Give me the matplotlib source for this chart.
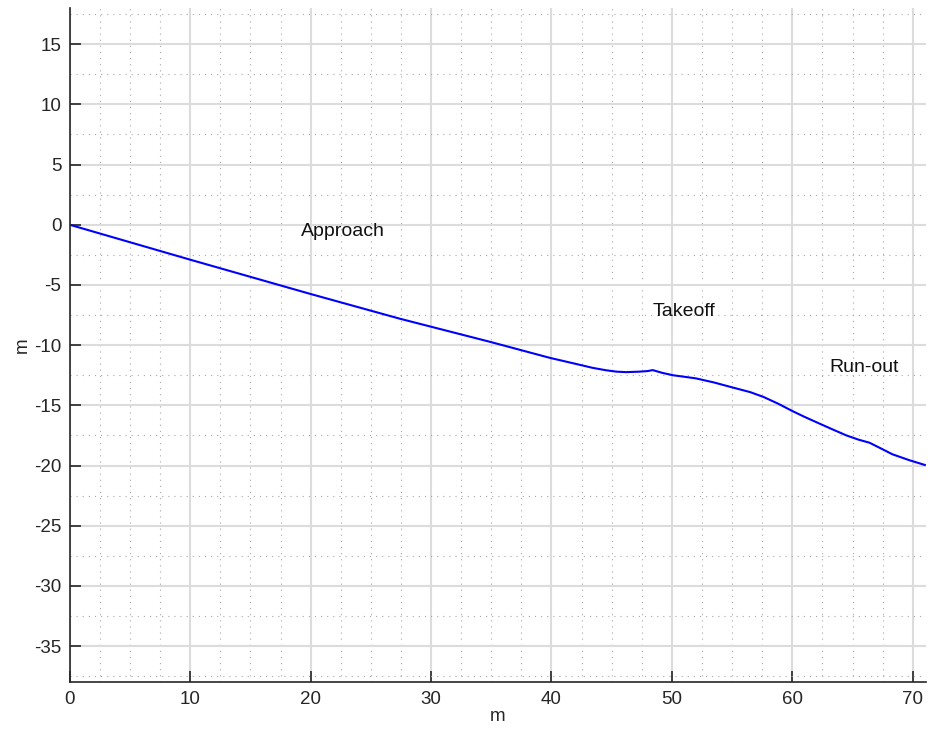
import matplotlib
matplotlib.use("Agg")
import matplotlib.pyplot as plt
from matplotlib.ticker import MultipleLocator

plt.rcParams['font.family'] = ['Liberation Sans', 'DejaVu Sans']
plt.rcParams['axes.unicode_minus'] = False

# profile of the slope (m)
dist = [0, 10, 20, 27.4, 35, 39.85, 42.0, 43.4, 44.5, 45.4, 46.2, 47.3, 48.0, 48.4,
        49.2, 50.1, 51.0, 52.0, 53.5, 55.1, 56.5, 57.6, 58.8, 60.0, 61.0, 62.0,
        63.3, 64.5, 65.5, 66.4, 67.3, 68.3, 69.7, 71.0]
height = [0, -2.9, -5.75, -7.8, -9.75, -11.05, -11.55, -11.88, -12.08, -12.2, -12.24,
          -12.2, -12.15, -12.07, -12.3, -12.5, -12.62, -12.76, -13.1, -13.53, -13.9,
          -14.3, -14.85, -15.47, -15.95, -16.4, -16.98, -17.5, -17.85, -18.1, -18.55,
          -19.06, -19.55, -19.95]

labels = ["Approach", "Takeoff", "Run-out"]
label_x = [19.2, 48.4, 63.1]
label_y = [-0.6, -7.2, -11.85]

fig = plt.figure(figsize=(9.29, 7.33), dpi=100)
ax = fig.add_axes([0.0751, 0.0692, 0.9217, 0.9198])

ax.plot(dist, height, color=(0, 0, 1), lw=1.5)
for t, x, y in zip(labels, label_x, label_y):
    ax.text(x, y, t, ha='left', va='center', fontsize=14, color='#111111')

ax.set_xlim(0, 71.1)
ax.set_ylim(-38, 18)
ax.xaxis.set_major_locator(MultipleLocator(10))
ax.yaxis.set_major_locator(MultipleLocator(5))
ax.xaxis.set_minor_locator(MultipleLocator(2.5))
ax.yaxis.set_minor_locator(MultipleLocator(2.5))
ax.grid(which='major', color='#dcdcdc', lw=1.5, ls='-')
ax.grid(which='minor', color='#a8a8a8', lw=0.8, ls=(0, (1, 4.5)))
ax.set_axisbelow(True)

for s in ['top', 'right']:
    ax.spines[s].set_visible(False)
for s in ['left', 'bottom']:
    ax.spines[s].set_color('#262626')
    ax.spines[s].set_linewidth(1.2)
ax.tick_params(which='major', direction='in', length=8, width=1.2, color='#262626',
               labelsize=13.5, labelcolor='#262626', pad=6)
ax.tick_params(which='minor', length=0)

ax.set_xlabel('m', fontsize=13.5, color='#262626', labelpad=0)
ax.set_ylabel('m', fontsize=13.5, color='#262626', labelpad=2)

fig.savefig('out.png', dpi=100)
